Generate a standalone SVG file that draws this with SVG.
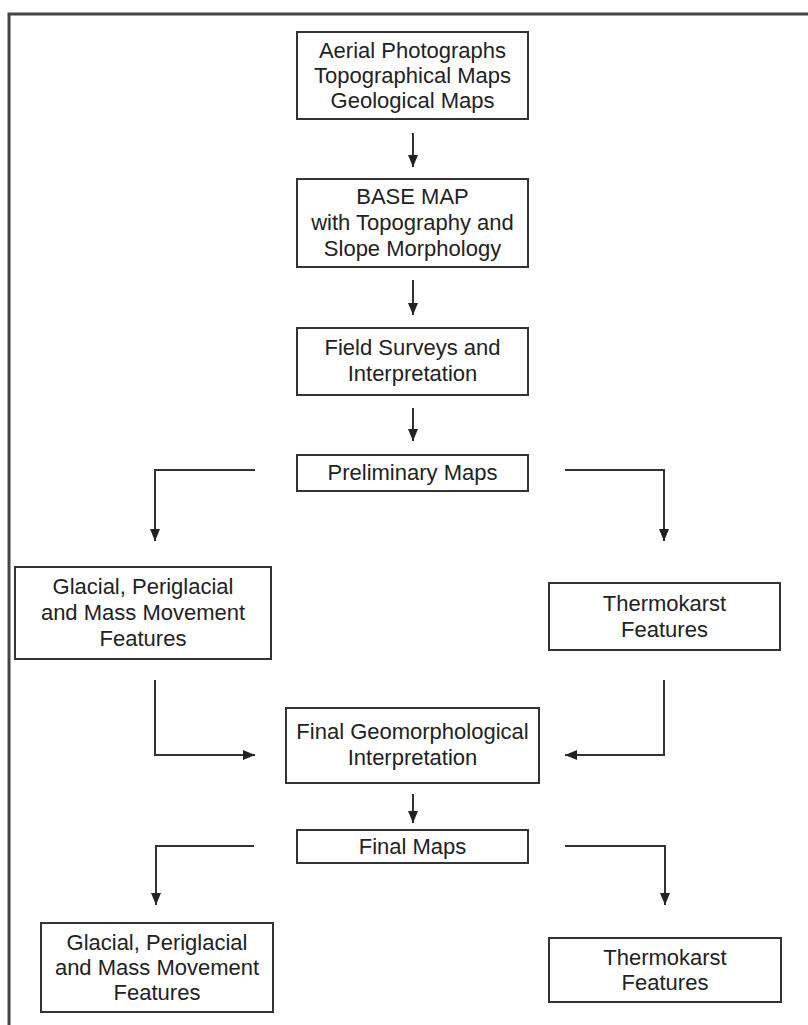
<svg xmlns="http://www.w3.org/2000/svg" width="808" height="1025" viewBox="0 0 808 1025">
<defs>
<style>
.box{fill:#fff;stroke:#333;stroke-width:2}
.t{font-family:"Liberation Sans",Arial,sans-serif;font-size:22px;fill:#222;text-anchor:middle}
.c{fill:none;stroke:#333;stroke-width:2}
.frame{fill:none;stroke:#444;stroke-width:3}
</style>
<marker id="ah" markerUnits="userSpaceOnUse" markerWidth="12" markerHeight="12" viewBox="0 0 12 12" refX="12" refY="6" orient="auto">
<path d="M0,1 L12,6 L0,11 Z" fill="#222"/>
</marker>
</defs>
<rect width="808" height="1025" fill="#fff"/>
<path class="frame" d="M9,1025 V14 H808"/>

<g id="connectors">
<path class="c" d="M413,133 V167" marker-end="url(#ah)"/>
<path class="c" d="M413,280 V315" marker-end="url(#ah)"/>
<path class="c" d="M413,408 V441" marker-end="url(#ah)"/>
<path class="c" d="M255,470 H155 V541" marker-end="url(#ah)"/>
<path class="c" d="M565,470 H664 V541" marker-end="url(#ah)"/>
<path class="c" d="M155,680 V755 H255" marker-end="url(#ah)"/>
<path class="c" d="M664,680 V755 H565" marker-end="url(#ah)"/>
<path class="c" d="M413,794 V823" marker-end="url(#ah)"/>
<path class="c" d="M254,846 H156 V905" marker-end="url(#ah)"/>
<path class="c" d="M565,846 H665 V905" marker-end="url(#ah)"/>
</g>

<g id="sources">
<rect class="box" x="297" y="32" width="231" height="87"/>
<text class="t" x="412.5" y="58">Aerial Photographs</text>
<text class="t" x="412.5" y="83">Topographical Maps</text>
<text class="t" x="412.5" y="108">Geological Maps</text>
</g>
<g id="base-map">
<rect class="box" x="297" y="179" width="231" height="88"/>
<text class="t" x="412.5" y="204">BASE MAP</text>
<text class="t" x="412.5" y="230">with Topography and</text>
<text class="t" x="412.5" y="256">Slope Morphology</text>
</g>
<g id="field-surveys">
<rect class="box" x="297" y="328" width="231" height="67"/>
<text class="t" x="412.5" y="355">Field Surveys and</text>
<text class="t" x="412.5" y="381">Interpretation</text>
</g>
<g id="preliminary-maps">
<rect class="box" x="297" y="455" width="231" height="36"/>
<text class="t" x="412.5" y="480">Preliminary Maps</text>
</g>
<g id="glacial-1">
<rect class="box" x="15" y="567" width="256" height="92"/>
<text class="t" x="143" y="594">Glacial, Periglacial</text>
<text class="t" x="143" y="620">and Mass Movement</text>
<text class="t" x="143" y="646">Features</text>
</g>
<g id="thermokarst-1">
<rect class="box" x="549" y="583" width="231" height="67"/>
<text class="t" x="664.5" y="611">Thermokarst</text>
<text class="t" x="664.5" y="637">Features</text>
</g>
<g id="final-interpretation">
<rect class="box" x="286" y="708" width="253" height="75"/>
<text class="t" x="412.5" y="739">Final Geomorphological</text>
<text class="t" x="412.5" y="765">Interpretation</text>
</g>
<g id="final-maps">
<rect class="box" x="297" y="830" width="231" height="33"/>
<text class="t" x="412.5" y="854">Final Maps</text>
</g>
<g id="glacial-2">
<rect class="box" x="41" y="923" width="232" height="89"/>
<text class="t" x="157" y="950">Glacial, Periglacial</text>
<text class="t" x="157" y="975">and Mass Movement</text>
<text class="t" x="157" y="1000">Features</text>
</g>
<g id="thermokarst-2">
<rect class="box" x="549" y="938" width="232" height="64"/>
<text class="t" x="665" y="965">Thermokarst</text>
<text class="t" x="665" y="990">Features</text>
</g>
</svg>
